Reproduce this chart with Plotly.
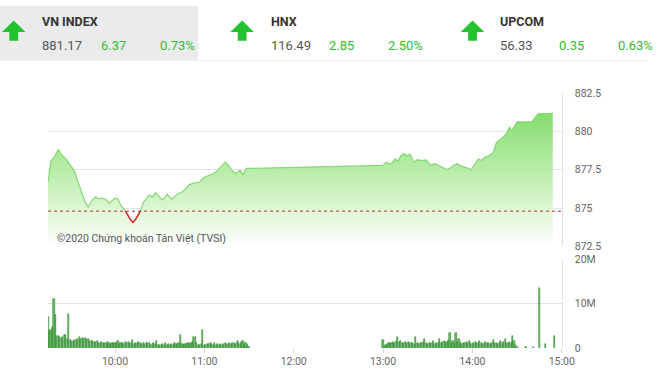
import plotly.graph_objects as go
import pandas as pd

DAY = "2020-06-01 "
W, H = 660, 380

# ---------------- header data ----------------
IDX_NAMES = ["VN INDEX", "HNX", "UPCOM"]
IDX_VALUES = ["881.17", "116.49", "56.33"]
IDX_CHANGE = ["6.37", "2.85", "0.35"]
IDX_PCT = ["0.73%", "2.50%", "0.63%"]

# ---------------- index line (VN-Index intraday) ----------------
REF_LEVEL = 874.80
LINE_TIMES = [
    "09:15", "09:16", "09:17", "09:19", "09:22", "09:24", "09:27", "09:30", "09:33", "09:35",
    "09:38", "09:40", "09:42", "09:44", "09:47", "09:49", "09:51", "09:54", "09:56", "10:00",
    "10:02", "10:04", "10:07", "10:10", "10:12", "10:14", "10:17", "10:19", "10:23", "10:25",
    "10:27", "10:30", "10:32", "10:35", "10:38", "10:40", "10:42", "10:45", "10:47", "10:50",
    "10:53", "10:57", "10:59", "11:01", "11:04", "11:08", "11:11", "11:14", "11:17", "11:19",
    "11:21", "11:24", "11:26", "11:28", "11:30",
    "13:00", "13:02", "13:04", "13:06", "13:08", "13:10", "13:12", "13:14", "13:16", "13:18",
    "13:21", "13:23", "13:26", "13:29", "13:32", "13:35", "13:37", "13:40", "13:43", "13:45",
    "13:47", "13:50", "13:52", "13:54", "13:58", "13:59", "14:01", "14:04", "14:06", "14:08",
    "14:11", "14:14", "14:16", "14:18", "14:20", "14:23", "14:25", "14:26", "14:30", "14:40",
    "14:44", "14:54",
]
LINE_VALUES = [
    876.70, 877.60, 878.10, 878.30, 878.83, 878.50, 878.20, 877.80, 877.36, 876.73,
    875.90, 875.37, 875.06, 875.44, 875.73, 875.60, 875.65, 875.58, 875.30, 875.65,
    875.58, 875.16, 874.80, 874.30, 874.07, 874.30, 874.80, 875.37, 875.85, 875.70,
    876.00, 875.69, 875.52, 875.90, 875.58, 875.75, 875.90, 876.05, 876.21, 876.53,
    876.63, 876.70, 876.95, 877.05, 877.15, 877.36, 877.68, 877.99, 877.68, 877.40,
    877.26, 877.47, 877.15, 877.58, 877.58,
    877.78, 877.99, 877.85, 877.95, 878.20, 878.05, 878.41, 878.56, 878.41, 878.52,
    877.99, 878.15, 878.10, 878.14, 877.78, 877.90, 877.78, 877.64, 877.51, 877.60,
    877.78, 877.89, 877.75, 877.68, 877.58, 877.47, 877.78, 878.20, 878.10, 878.30,
    878.41, 878.62, 879.25, 879.40, 879.56, 879.88, 880.30, 879.98, 880.61, 880.61,
    881.14, 881.17,
]

# ---------------- volume (millions of shares per minute) ----------------
VOL_AM_START = "09:15"
VOL_AM = [
    7.0, 3.8, 4.0, 4.6, 10.9, 7.5, 2.7, 2.6, 2.5, 2.3, 2.4, 2.8, 2.9, 2.0, 7.6, 1.8,
    1.6, 1.5, 1.7, 1.8, 1.9, 2.4, 2.0, 2.3, 2.1, 2.2, 1.9, 2.0, 1.6, 1.5, 1.5,
    1.4, 1.3, 1.5, 1.2, 1.1, 1.3, 1.0, 1.2, 1.1, 1.4, 1.0, 0.9, 1.1, 1.0, 1.2,
    1.1, 1.6, 0.9, 1.0, 1.2, 0.8, 1.3, 1.0, 1.4, 1.2, 1.1, 1.7, 0.9, 1.0, 1.1,
    1.3, 1.0, 0.8, 1.2, 0.9, 1.0, 1.1, 1.0, 0.7, 0.9, 1.2, 0.8, 1.6, 0.7, 0.6,
    0.7, 0.9, 0.6, 1.0, 0.7, 0.8, 0.6, 0.9, 0.7, 1.0, 0.8, 0.9, 1.0, 2.8, 0.8,
    0.7, 0.9, 0.8, 1.0, 0.9, 1.2, 1.4, 2.4, 2.4, 1.1, 0.6, 0.7, 0.8, 4.0, 0.6,
    0.7, 0.8, 0.9, 1.0, 0.8, 0.6, 1.1, 0.7, 0.8, 0.6, 0.9, 0.7, 0.8, 1.0, 0.8,
    0.9, 1.1, 0.8, 1.0, 1.2, 0.9, 1.6, 1.0, 0.8, 1.3, 1.5, 0.9, 1.1, 0.6, 0.3,
]
VOL_PM_START = "13:00"
VOL_PM = [
    1.8, 0.4, 0.7, 0.9, 1.0, 1.2, 1.1, 1.4, 1.0, 1.5, 2.4, 1.3, 1.6, 1.2, 1.0,
    1.4, 1.1, 1.3, 1.2, 1.0, 1.1, 0.9, 2.5, 1.0, 0.8, 1.1, 1.0, 1.3, 2.0, 1.0,
    0.9, 1.2, 1.0, 1.1, 1.5, 0.9, 1.2, 1.0, 2.0, 1.1, 1.3, 1.6, 1.0, 1.4, 1.8,
    3.3, 1.2, 1.5, 1.1, 3.4, 1.4, 2.0, 1.0, 0.9, 1.2, 1.1, 1.3, 1.0, 1.6, 1.1,
    0.9, 1.2, 1.4, 1.0, 1.1, 1.5, 1.0, 0.8, 1.1, 1.3, 1.0, 1.2, 0.9, 1.1, 1.7,
    1.0, 1.2, 0.9, 1.1, 1.6, 1.0, 1.3, 1.9, 1.1, 1.0, 1.4, 1.2, 2.7, 1.5, 0.6,
    0.2,
]
VOL_LATE_TIMES = ["14:36", "14:41", "14:45", "14:49", "14:55"]
VOL_LATE = [0.1, 0.1, 13.5, 0.9, 2.7]

Y_TICKS_TOP = [872.5, 875, 877.5, 880, 882.5]
Y_TICKS_VOL = [0, 10, 20]
Y_TICK_VOL_TEXT = ["0", "10M", "20M"]
X_TICKS = ["10:00", "11:00", "12:00", "13:00", "14:00", "15:00"]

# ---------------- build ----------------
def t(s):
    return pd.Timestamp(DAY + s)

line_x = [t(s) for s in LINE_TIMES]
vol_x = (list(pd.date_range(t(VOL_AM_START), periods=len(VOL_AM), freq="min"))
         + list(pd.date_range(t(VOL_PM_START), periods=len(VOL_PM), freq="min"))
         + [t(s) for s in VOL_LATE_TIMES])
vol_y = [v * 1e6 for v in VOL_AM + VOL_PM + VOL_LATE]

red_y = [v if v <= REF_LEVEL + 1e-6 else None for v in LINE_VALUES]

X0, X1 = 49, 573
def px(x, y):
    return x / W, 1 - y / H

fig = go.Figure()

# base for gradient fill
fig.add_trace(go.Scatter(x=line_x, y=[Y_TICKS_TOP[0]] * len(line_x), mode="lines",
                         line=dict(width=0), hoverinfo="skip", showlegend=False,
                         xaxis="x", yaxis="y"))
fig.add_trace(go.Scatter(
    x=line_x, y=LINE_VALUES, mode="lines", fill="tonexty",
    line=dict(color="#86d874", width=1.2),
    fillgradient=dict(type="vertical",
                      colorscale=[[0, "rgba(255,255,255,1)"], [0.35, "rgba(212,244,200,1)"],
                                  [1, "rgba(132,222,110,1)"]]),
    showlegend=False, xaxis="x", yaxis="y"))
fig.add_trace(go.Scatter(x=line_x, y=red_y, mode="lines", connectgaps=False,
                         line=dict(color="#d62020", width=1.4), showlegend=False,
                         xaxis="x", yaxis="y"))
fig.add_trace(go.Scatter(x=[t("09:15"), t("15:00")], y=[REF_LEVEL, REF_LEVEL], mode="lines",
                         line=dict(color="#b03020", width=1, dash="dot"), showlegend=False,
                         xaxis="x", yaxis="y"))

fig.add_trace(go.Bar(x=vol_x, y=vol_y, width=45000,
                     marker=dict(color="#6cbd6a", line=dict(color="#2a8a2a", width=0.6)),
                     showlegend=False, xaxis="x2", yaxis="y2"))

xr = [t("09:15"), t("15:00")]
grid = "#e3e3e3"
tickfont = dict(family="Roboto, sans-serif", size=10.5, color="#666")

fig.update_layout(
    width=W, height=H, autosize=False,
    margin=dict(l=0, r=0, t=0, b=0),
    paper_bgcolor="white", plot_bgcolor="white",
    xaxis=dict(domain=[X0 / W, X1 / W], range=xr, type="date", showticklabels=False,
               showgrid=False, zeroline=False, anchor="y"),
    yaxis=dict(domain=[1 - 249 / H, 1 - 90 / H], range=[872.5, 882.5], side="right",
               tickvals=Y_TICKS_TOP, ticktext=[f"{v:g}" for v in Y_TICKS_TOP],
               gridcolor=grid, showline=True, linecolor=grid, zeroline=False,
               tickfont=tickfont, ticklabelstandoff=10, anchor="x"),
    xaxis2=dict(domain=[X0 / W, X1 / W], range=xr, type="date",
                tickvals=[t(s) for s in X_TICKS], ticktext=X_TICKS,
                showgrid=False, zeroline=False, ticks="outside", ticklen=4,
                tickcolor="#d0d0d0", tickfont=tickfont, anchor="y2"),
    yaxis2=dict(domain=[1 - 354 / H, 1 - 262 / H], range=[0, 20e6], side="right",
                tickvals=[v * 1e6 for v in Y_TICKS_VOL], ticktext=Y_TICK_VOL_TEXT,
                gridcolor=grid, showline=True, linecolor=grid, zeroline=False,
                tickfont=tickfont, ticklabelstandoff=10, anchor="x2"),
    bargap=0,
)

shapes = []
# header background (VN-Index block)
a, b = px(0, 0); c, d = px(202, 56)
shapes.append(dict(type="rect", xref="paper", yref="paper", x0=a, y0=d, x1=c, y1=b,
                   fillcolor="#ebebeb", line=dict(width=0), layer="below"))
a, b = px(0, 56.5); c, _ = px(660, 56.5)
shapes.append(dict(type="line", xref="paper", yref="paper", x0=a, y0=b, x1=c, y1=b,
                   line=dict(color="#efefef", width=1)))

def arrow(x0):
    pts = [(x0 + 12, 15), (x0 + 24, 27), (x0 + 16.5, 27), (x0 + 16.5, 36), (x0 + 7.5, 36),
           (x0 + 7.5, 27), (x0, 27)]
    path = "M " + " L ".join(f"{px(x, y)[0]},{px(x, y)[1]}" for x, y in pts) + " Z"
    return dict(type="path", xref="paper", yref="paper", path=path,
                fillcolor="#22c32e", line=dict(width=0))

ARROW_X = [2, 235, 470]
TEXT_X = [41, 274, 508]
for ax in ARROW_X:
    shapes.append(arrow(ax))
fig.update_layout(shapes=shapes)

ann = []
hfont = "Roboto, sans-serif"
for i in range(3):
    tx = TEXT_X[i]
    for txt, dx, y, col, bold, sz in [
        (IDX_NAMES[i], 0, 16, "#333", True, 12.5),
        (IDX_VALUES[i], 0, 41, "#555", False, 13),
        (IDX_CHANGE[i], 60, 41, "#33bb33", False, 13),
        (IDX_PCT[i], 120, 41, "#33bb33", False, 13),
    ]:
        xx, yy = px(tx + dx, y)
        ann.append(dict(x=xx, y=yy, xref="paper", yref="paper", xanchor="left",
                        yanchor="middle", showarrow=False,
                        text=f"<b>{txt}</b>" if bold else txt,
                        font=dict(family=hfont, size=sz, color=col)))
xx, yy = px(56, 241)
ann.append(dict(x=xx, y=yy, xref="paper", yref="paper", xanchor="left", yanchor="middle",
                showarrow=False, text="©2020 Chứng khoán Tân Việt (TVSI)",
                font=dict(family=hfont, size=10.5, color="#555")))
fig.update_layout(annotations=ann)

fig.write_html("out.html", config={"displayModeBar": False},
               post_script="document.body.style.margin='0';document.body.style.overflow='hidden';")
